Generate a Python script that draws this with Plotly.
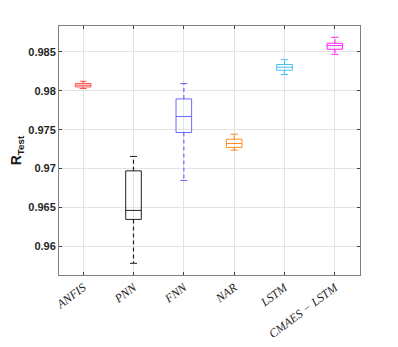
import plotly.graph_objects as go

categories = ["ANFIS", "PNN", "FNN", "NAR", "LSTM", "CMAES − LSTM"]
lower_whisker = [0.98030, 0.95781, 0.96847, 0.97237, 0.98210, 0.98470]
q1 = [0.98050, 0.96346, 0.97464, 0.97272, 0.98265, 0.98535]
median = [0.98072, 0.96462, 0.97670, 0.97323, 0.98303, 0.98582]
q3 = [0.98094, 0.96971, 0.97896, 0.97378, 0.98338, 0.98612]
upper_whisker = [0.98123, 0.97156, 0.98094, 0.97442, 0.98402, 0.98689]
colors = ["#ff5050", "#222222", "#6a6aff", "#ff8c1a", "#4dbeee", "#ff22ff"]

ytick_vals = [0.96, 0.965, 0.97, 0.975, 0.98, 0.985]
ytick_text = ["0.96", "0.965", "0.97", "0.975", "0.98", "0.985"]

fig = go.Figure()
box_w = 0.31
cap_w = 0.07
for i, cat in enumerate(categories):
    c = colors[i]
    fig.add_trace(go.Box(
        x=[i], q1=[q1[i]], median=[median[i]], q3=[q3[i]],
        lowerfence=[q1[i]], upperfence=[q3[i]],
        width=box_w, whiskerwidth=0, fillcolor="rgba(0,0,0,0)",
        line=dict(color=c, width=1), boxpoints=False, showlegend=False,
        hoverinfo="skip"))
    # dashed whiskers
    fig.add_trace(go.Scatter(
        x=[i, i, None, i, i], y=[q3[i], upper_whisker[i], None, q1[i], lower_whisker[i]],
        mode="lines", line=dict(color=c, width=1.2, dash="4px,3px"),
        showlegend=False, hoverinfo="skip"))
    # caps
    fig.add_trace(go.Scatter(
        x=[i - cap_w, i + cap_w, None, i - cap_w, i + cap_w],
        y=[upper_whisker[i], upper_whisker[i], None, lower_whisker[i], lower_whisker[i]],
        mode="lines", line=dict(color=c, width=1),
        showlegend=False, hoverinfo="skip"))

# page body has an 8px default margin; size the figure so no scrollbars appear
fig.update_layout(
    width=382, height=331,
    margin=dict(l=51, r=30, t=18, b=64),
    plot_bgcolor="white", paper_bgcolor="white",
    annotations=[dict(
        text="<b>R<sub>Test</sub></b>", xref="paper", yref="paper",
        x=-0.140, y=0.5, xanchor="center", yanchor="middle", textangle=-90,
        showarrow=False, font=dict(family="Liberation Sans", size=14, color="#1a1a1a"))],
)
fig.update_xaxes(
    range=[-0.48, 5.5], tickvals=list(range(len(categories))),
    ticktext=["<i>" + c + "</i>" for c in categories],
    tickangle=-37, tickfont=dict(family="Liberation Serif", size=12, color="#262626"),
    showgrid=True, gridcolor="#e3e3e3", gridwidth=1,
    showline=True, linecolor="#808080", linewidth=1, mirror="ticks",
    ticks="inside", ticklen=3, tickcolor="#404040", zeroline=False,
    automargin=False,
)
fig.update_yaxes(
    range=[0.95631, 0.98834], tickvals=ytick_vals, ticktext=ytick_text,
    tickfont=dict(family="Liberation Sans", size=11, color="#262626", weight="bold"),
    showgrid=True, gridcolor="#e3e3e3", gridwidth=1,
    showline=True, linecolor="#808080", linewidth=1, mirror="ticks",
    ticks="inside", ticklen=3, tickcolor="#404040", zeroline=False,
    automargin=False,
)
fig.write_html("out.html")
